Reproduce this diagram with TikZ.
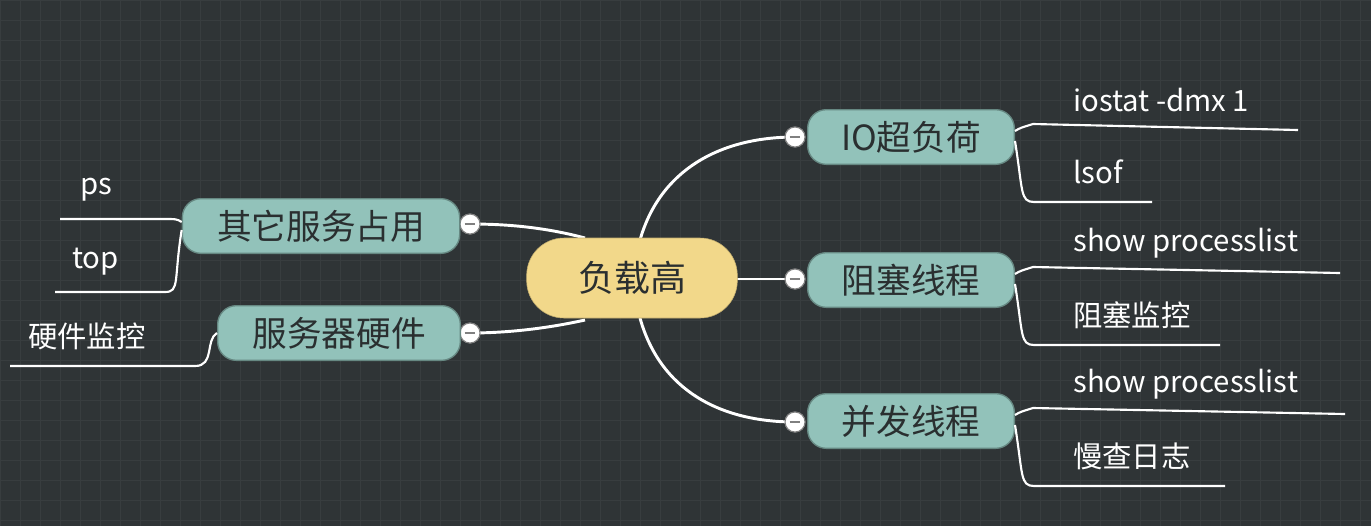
\documentclass[tikz,border=0pt]{standalone}
\usepackage{fontspec}
\setmainfont{Noto Sans CJK SC}
\begin{document}
\begin{tikzpicture}[x=0.75pt,y=-0.75pt,
  branch/.style={rounded corners=14pt,fill=tealc,draw=tealc!70!black,line width=1pt,minimum height=41pt,font=\fontsize{26}{28}\selectfont,text=textc,inner sep=0pt},
  leaf/.style={text=white,font=\fontsize{22}{24}\selectfont,inner sep=0pt,anchor=west},
  wire/.style={draw=white,line width=2.2pt},
  thin/.style={draw=white,line width=1.6pt},
  col/.style={circle,fill=white,draw=gray,line width=0.8pt,minimum size=15pt,inner sep=0pt,path picture={\draw[gray,line width=1.2pt] ([xshift=-4pt]path picture bounding box.center)--([xshift=4pt]path picture bounding box.center);}}]
\definecolor{bgc}{HTML}{2F3436}
\definecolor{gridc}{HTML}{383D3F}
\definecolor{tealc}{HTML}{92C2BA}
\definecolor{textc}{HTML}{2A2F30}
\definecolor{yel}{HTML}{F2D88A}
\fill[bgc] (0,0) rectangle (1371,526);
\useasboundingbox (0,0) rectangle (1371,526);
\foreach \i in {0,20,...,1371} \draw[gridc,line width=0.6pt] (\i,0)--(\i,526);
\foreach \j in {0,20,...,526} \draw[gridc,line width=0.6pt] (0,\j)--(1371,\j);
\node[col] (k1) at (795,137) {};
\node[col] (k2) at (795,279) {};
\node[col] (k3) at (795,422) {};
\node[col] (k4) at (470,224) {};
\node[col] (k5) at (470,333) {};
\draw[wire] (640,240) .. controls (660,170) and (720,137) .. (k1.center);
\draw[wire] (700,279) -- (k2.center);
\draw[wire] (640,318) .. controls (660,390) and (720,422) .. (k3.center);
\draw[wire] (585,238) .. controls (540,226) and (500,224) .. (k4.center);
\draw[wire] (585,320) .. controls (540,330) and (500,333) .. (k5.center);
\node[col] at (795,137) {};\node[col] at (795,279) {};\node[col] at (795,422) {};
\node[col] at (470,224) {};\node[col] at (470,333) {};
\node[rounded corners=28pt,fill=yel,draw=yel!80!black,minimum width=158pt,minimum height=60pt,font=\fontsize{27}{29}\selectfont,text=textc] (c) at (632,278) {负载高};
\node[branch,minimum width=155pt] (b1) at (911,137) {IO超负荷};
\node[branch,minimum width=155pt] (b2) at (911,280) {阻塞线程};
\node[branch,minimum width=155pt] (b3) at (911,421) {并发线程};
\node[branch,minimum width=208pt] (b4) at (321,226) {其它服务占用};
\node[branch,minimum width=182pt] (b5) at (339,333) {服务器硬件};
\foreach \b/\y/\ta/\tb/\ea/\eb in {b1/137/{iostat -dmx 1}/lsof/1298/1152,
  b2/280/{show processlist}/阻塞监控/1340/1220,
  b3/421/{show processlist}/慢查日志/1345/1225}{
  \draw[thin] (\b.east) ++(0,-6) .. controls +(5,-3) .. ++(18,-7) -- (\ea,\y-7);
  \draw[thin] (\b.east) ++(0,4) .. controls +(8,50) and (1020,\y+65) .. (1034,\y+65) -- (\eb,\y+65);
  \node[leaf] at (1073,\y-37) {\ta};
  \node[leaf] at (1073,\y+35) {\tb};
}
\coordinate (l1) at (60,219);
\draw[thin] (b4.west) ++(0,-4) .. controls +(-5,-3) .. ++(-18,-3) -- (l1);
\node[leaf] at (80,190) {ps};
\coordinate (l2) at (55,292);
\draw[thin] (b4.west) ++(0,4) .. controls +(-8,50) and (180,292) .. (165,292) -- (l2);
\node[leaf] at (72,262) {top};
\coordinate (l3) at (10,366);
\draw[thin] (b5.west) .. controls (205,340) and (215,366) .. (195,366) -- (l3);
\node[leaf] at (28,336) {硬件监控};
\end{tikzpicture}
\end{document}
